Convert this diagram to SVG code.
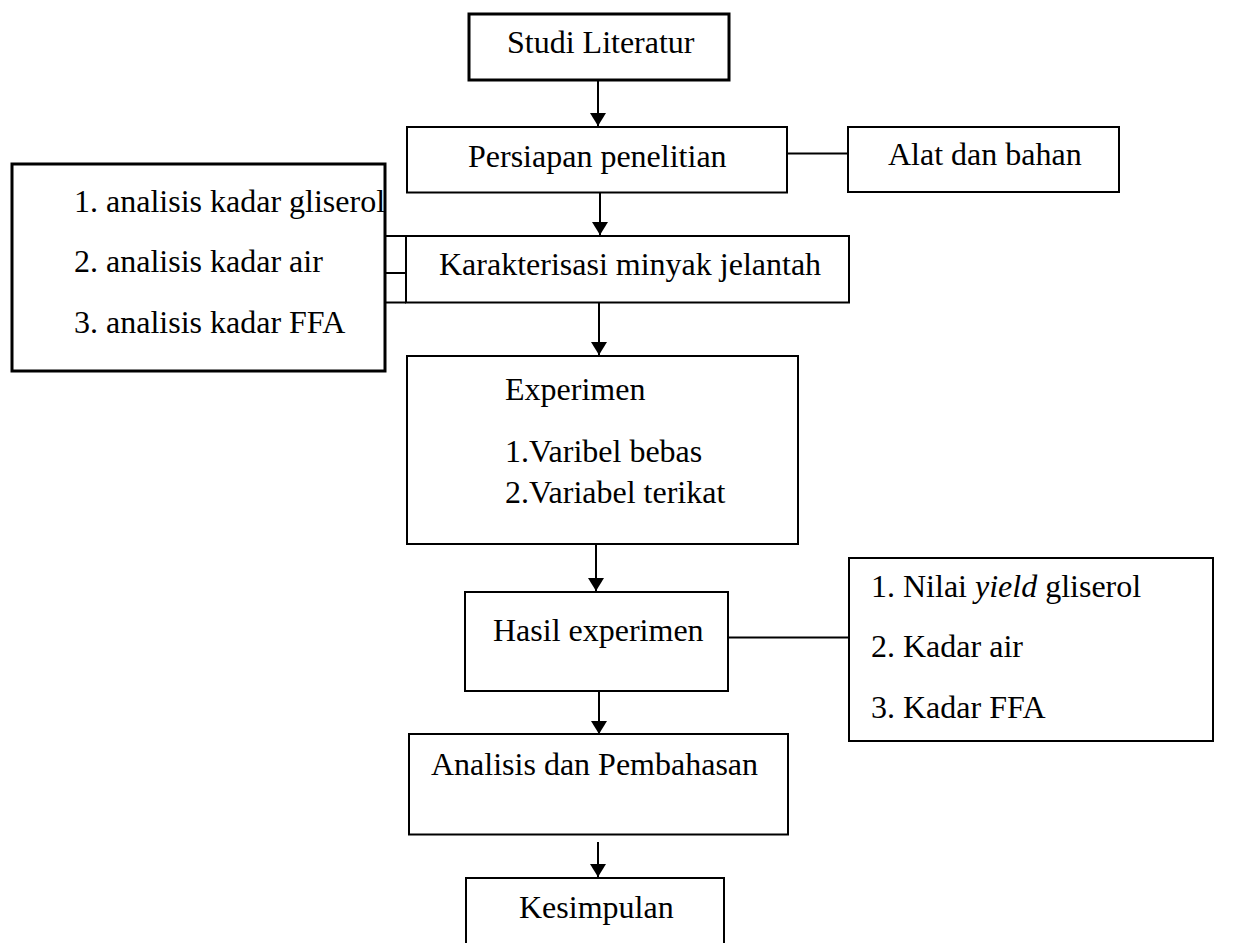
<svg xmlns="http://www.w3.org/2000/svg" width="1245" height="943" viewBox="0 0 1245 943">
  <style>
    .box { fill: #ffffff; stroke: #000000; stroke-width: 2; }
    .thick { stroke-width: 3; }
    .txt { font-family: "Liberation Serif", "Times New Roman", serif; font-size: 32px; fill: #000000; }
    .con { stroke: #000000; stroke-width: 2; fill: none; }
  </style>
  <defs>
    <marker id="arr" markerUnits="userSpaceOnUse" markerWidth="16" markerHeight="16" refX="13" refY="8" orient="auto">
      <path d="M0,0 L13,8 L0,16 z" fill="#000000"/>
    </marker>
  </defs>
  <rect width="1245" height="943" fill="#ffffff"/>

  <g id="connectors">
    <line class="con" x1="598" y1="80" x2="598" y2="126" marker-end="url(#arr)"/>
    <line class="con" x1="600" y1="190" x2="600" y2="235" marker-end="url(#arr)"/>
    <line class="con" x1="599" y1="303" x2="599" y2="355" marker-end="url(#arr)"/>
    <line class="con" x1="596" y1="544" x2="596" y2="591" marker-end="url(#arr)"/>
    <line class="con" x1="599" y1="691" x2="599" y2="734" marker-end="url(#arr)"/>
    <line class="con" x1="598" y1="842" x2="598" y2="877" marker-end="url(#arr)"/>
    <line class="con" x1="787" y1="153.5" x2="848" y2="153.5"/>
    <line class="con" x1="728" y1="637.5" x2="849" y2="637.5"/>
    <line class="con" x1="385" y1="236" x2="406" y2="236"/>
    <line class="con" x1="385" y1="273" x2="406" y2="273"/>
    <line class="con" x1="385" y1="302.5" x2="406" y2="302.5"/>
  </g>

  <g id="studi-literatur">
    <rect class="box thick" x="469" y="14" width="260" height="66"/>
    <text class="txt" x="507" y="53">Studi Literatur</text>
  </g>

  <g id="persiapan-penelitian">
    <rect class="box" x="407" y="127" width="380" height="65.5"/>
    <text class="txt" x="468" y="167">Persiapan penelitian</text>
  </g>

  <g id="alat-dan-bahan">
    <rect class="box" x="848" y="127" width="271" height="65"/>
    <text class="txt" x="888" y="165">Alat dan bahan</text>
  </g>

  <g id="karakterisasi">
    <rect class="box" x="406" y="236" width="443" height="66.5"/>
    <text class="txt" x="439" y="275">Karakterisasi minyak jelantah</text>
  </g>

  <g id="analisis-list">
    <rect class="box thick" x="12" y="164" width="373" height="207"/>
    <text class="txt" x="74" y="212">1. analisis kadar gliserol</text>
    <text class="txt" x="74" y="272">2. analisis kadar air</text>
    <text class="txt" x="74" y="333">3. analisis kadar FFA</text>
  </g>

  <g id="experimen">
    <rect class="box" x="407" y="356" width="391" height="188" stroke-width="2.5"/>
    <text class="txt" x="505" y="400">Experimen</text>
    <text class="txt" x="505" y="462">1.Varibel bebas</text>
    <text class="txt" x="505" y="503">2.Variabel terikat</text>
  </g>

  <g id="hasil-experimen">
    <rect class="box" x="465" y="592" width="263" height="99" stroke-width="3.5"/>
    <text class="txt" x="493" y="641">Hasil experimen</text>
  </g>

  <g id="hasil-list">
    <rect class="box" x="849" y="558" width="364" height="183"/>
    <text class="txt" x="871" y="597">1. Nilai <tspan font-style="italic">yield</tspan> gliserol</text>
    <text class="txt" x="871" y="657">2. Kadar air</text>
    <text class="txt" x="871" y="718">3. Kadar FFA</text>
  </g>

  <g id="analisis-pembahasan">
    <rect class="box" x="409" y="734" width="379" height="100.5"/>
    <text class="txt" x="431" y="775">Analisis dan Pembahasan</text>
  </g>

  <g id="kesimpulan">
    <rect class="box" x="466" y="878" width="258" height="80"/>
    <text class="txt" x="519" y="918">Kesimpulan</text>
  </g>
</svg>
